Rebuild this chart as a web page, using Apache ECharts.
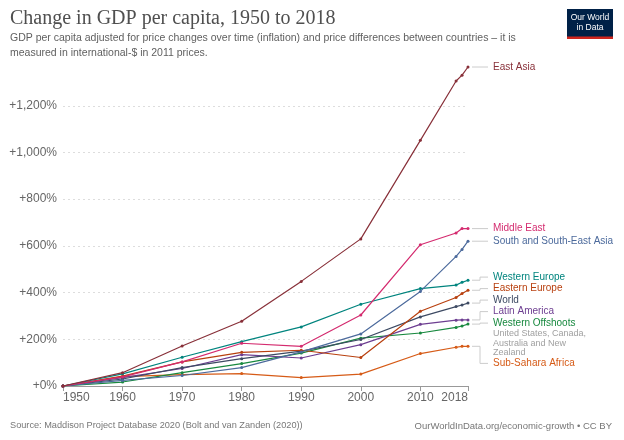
<!DOCTYPE html>
<html>
<head>
<meta charset="utf-8">
<script src="https://cdn.jsdelivr.net/npm/echarts@6/dist/echarts.min.js"></script>
<style>
  html, body { margin: 0; padding: 0; background: #fff; }
  #chart { width: 624px; height: 440px; }
</style>
</head>
<body>
<div id="chart"></div>
<script>
// years with observations
var years = [1950, 1960, 1970, 1980, 1990, 2000, 2010, 2016, 2017, 2018];

// change in GDP per capita since 1950, in %
var eastAsia = [0, 57, 171, 277, 448, 630, 1052, 1306, 1331, 1366];
var middleEast = [0, 39, 103, 183, 170, 304, 605, 655, 674, 674];
var southAsia = [0, 24, 45, 79, 146, 223, 405, 555, 585, 620];
var westernEurope = [0, 52, 123, 190, 253, 350, 417, 432, 444, 453];
var easternEurope = [0, 42, 103, 144, 153, 122, 320, 379, 396, 410];
var world = [0, 30, 79, 117, 149, 199, 296, 340, 347, 355];
var latinAmerica = [0, 36, 75, 134, 120, 177, 264, 282, 283, 283];
var westernOffshoots = [0, 17, 57, 96, 141, 205, 227, 251, 257, 265];
var subSaharanAfrica = [0, 40, 49, 53, 36, 51, 139, 166, 170, 170];

var regionNames = ['East Asia', 'Middle East', 'South and South-East Asia', 'Western Europe',
    'Eastern Europe', 'World', 'Latin America', 'Western Offshoots', 'Sub-Sahara Africa'];
var regionValues = [eastAsia, middleEast, southAsia, westernEurope, easternEurope, world,
    latinAmerica, westernOffshoots, subSaharanAfrica];
var regionColors = ['#883039', '#d42b6f', '#4c6a9c', '#00847e', '#b8400f', '#3d4a63',
    '#6d3e91', '#18893f', '#d65b17'];
var regionNotes = {'Western Offshoots': ['United States, Canada,', 'Australia and New', 'Zealand']};

var yTicks = [0, 200, 400, 600, 800, 1000, 1200];

var chart = echarts.init(document.getElementById('chart'));

var series = [];
for (var i = 0; i < regionNames.length; ++i) {
    var pts = [];
    for (var j = 0; j < years.length; ++j) {
        pts.push([years[j], regionValues[i][j]]);
    }
    series.push({
        type: 'line',
        name: regionNames[i],
        data: pts,
        symbol: 'circle',
        symbolSize: 3,
        color: regionColors[i],
        lineStyle: { width: 1.2 },
        z: 10 - i
    });
}

chart.setOption({
    animation: false,
    textStyle: { fontFamily: 'Liberation Sans' },
    title: [{
        text: 'Change in GDP per capita, 1950 to 2018',
        left: 10, top: 9, padding: 0,
        textStyle: { fontFamily: 'Liberation Serif', fontSize: 20, fontWeight: 'normal', color: '#4f4f4f' },
        subtext: 'GDP per capita adjusted for price changes over time (inflation) and price differences between countries – it is\nmeasured in international-$ in 2011 prices.',
        subtextStyle: { fontSize: 10.5, color: '#5f5f5f', lineHeight: 15 },
        itemGap: 2
    }, {
        text: 'Source: Maddison Project Database 2020 (Bolt and van Zanden (2020))',
        left: 10, top: 421, padding: 0,
        textStyle: { fontSize: 9.2, fontWeight: 'normal', color: '#777' }
    }, {
        text: 'OurWorldInData.org/economic-growth • CC BY',
        right: 12, top: 421, padding: 0,
        textStyle: { fontSize: 9.5, fontWeight: 'normal', color: '#777' }
    }],
    grid: { left: 63, right: 156, top: 67, bottom: 54 },
    xAxis: {
        type: 'value',
        min: 1950, max: 2018, interval: 10,
        axisLine: { lineStyle: { color: '#999' } },
        axisTick: { show: true, length: 5, lineStyle: { color: '#999' } },
        axisLabel: {
            color: '#666', fontSize: 12, margin: 6,
            showMinLabel: true, showMaxLabel: true,
            alignMinLabel: 'left', alignMaxLabel: 'right',
            formatter: function (v) { return String(v); }
        },
        splitLine: { show: false }
    },
    yAxis: {
        type: 'value',
        min: 0, max: 'dataMax', interval: 200,
        axisLine: { show: false },
        axisTick: { show: false },
        axisLabel: {
            color: '#666', fontSize: 12, margin: 6, showMaxLabel: false,
            formatter: function (v) {
                return yTicks.indexOf(v) >= 0 ? '+' + v.toLocaleString('en-US') + '%' : '';
            }
        },
        splitLine: {
            show: true, showMinLine: false, showMaxLine: false,
            lineStyle: { color: '#ddd', type: [2, 3] }
        }
    },
    series: series
});

// end labels: start at the last point, then push overlapping ones apart
var lineGap = 11.5, noteGap = 9.6;
var items = [];
for (var i = 0; i < regionNames.length; ++i) {
    var last = years.length - 1;
    var p = chart.convertToPixel({ gridIndex: 0 }, [years[last], regionValues[i][last]]);
    var notes = regionNotes[regionNames[i]] || [];
    items.push({ idx: i, px: p[0], py: p[1], h: lineGap + notes.length * noteGap, notes: notes });
}
items.sort(function (a, b) { return a.py - b.py; });

var groups = items.map(function (it) { return { items: [it] }; });
function groupTop(g) {
    var off = 0, sum = 0;
    g.items.forEach(function (it) { sum += it.py - off; off += it.h; });
    g.height = off;
    return sum / g.items.length;
}
groups.forEach(function (g) { g.top = groupTop(g); });
var merged = true;
while (merged) {
    merged = false;
    for (var k = 1; k < groups.length; ++k) {
        var prev = groups[k - 1], cur = groups[k];
        if (prev.top + prev.height > cur.top + 0.01) {
            prev.items = prev.items.concat(cur.items);
            prev.top = groupTop(prev);
            groups.splice(k, 1);
            merged = true;
            break;
        }
    }
}

var graphics = [];
groups.forEach(function (g) {
    var y = g.top;
    g.items.forEach(function (it) {
        var col = regionColors[it.idx];
        var x0 = it.px + 4, xm = it.px + 12, x1 = it.px + 20;
        graphics.push({
            type: 'polyline',
            shape: { points: [[x0, it.py], [xm, it.py], [xm, y], [x1, y]] },
            style: { stroke: '#ccc', lineWidth: 1, fill: null },
            silent: true
        });
        graphics.push({
            type: 'text', x: x1 + 5, y: y,
            style: { text: regionNames[it.idx], fill: col, font: '10px "Liberation Sans"', verticalAlign: 'middle' }
        });
        it.notes.forEach(function (t, n) {
            graphics.push({
                type: 'text', x: x1 + 5, y: y + lineGap - 1 + n * noteGap,
                style: { text: t, fill: '#a0a0a0', font: '9px "Liberation Sans"', verticalAlign: 'middle' }
            });
        });
        y += it.h;
    });
});

// logo
graphics.push({
    type: 'group', left: 567, top: 9,
    children: [
        { type: 'rect', shape: { x: 0, y: 0, width: 46, height: 30 }, style: { fill: '#002147' } },
        { type: 'rect', shape: { x: 0, y: 27.5, width: 46, height: 2.5 }, style: { fill: '#ce261e' } },
        { type: 'text', x: 23, y: 8.5, style: { text: 'Our World', fill: '#fff', font: '8.5px "Liberation Sans"', align: 'center', verticalAlign: 'middle' } },
        { type: 'text', x: 23, y: 18.5, style: { text: 'in Data', fill: '#fff', font: '8.5px "Liberation Sans"', align: 'center', verticalAlign: 'middle' } }
    ]
});

chart.setOption({ graphic: graphics });
</script>
</body>
</html>
